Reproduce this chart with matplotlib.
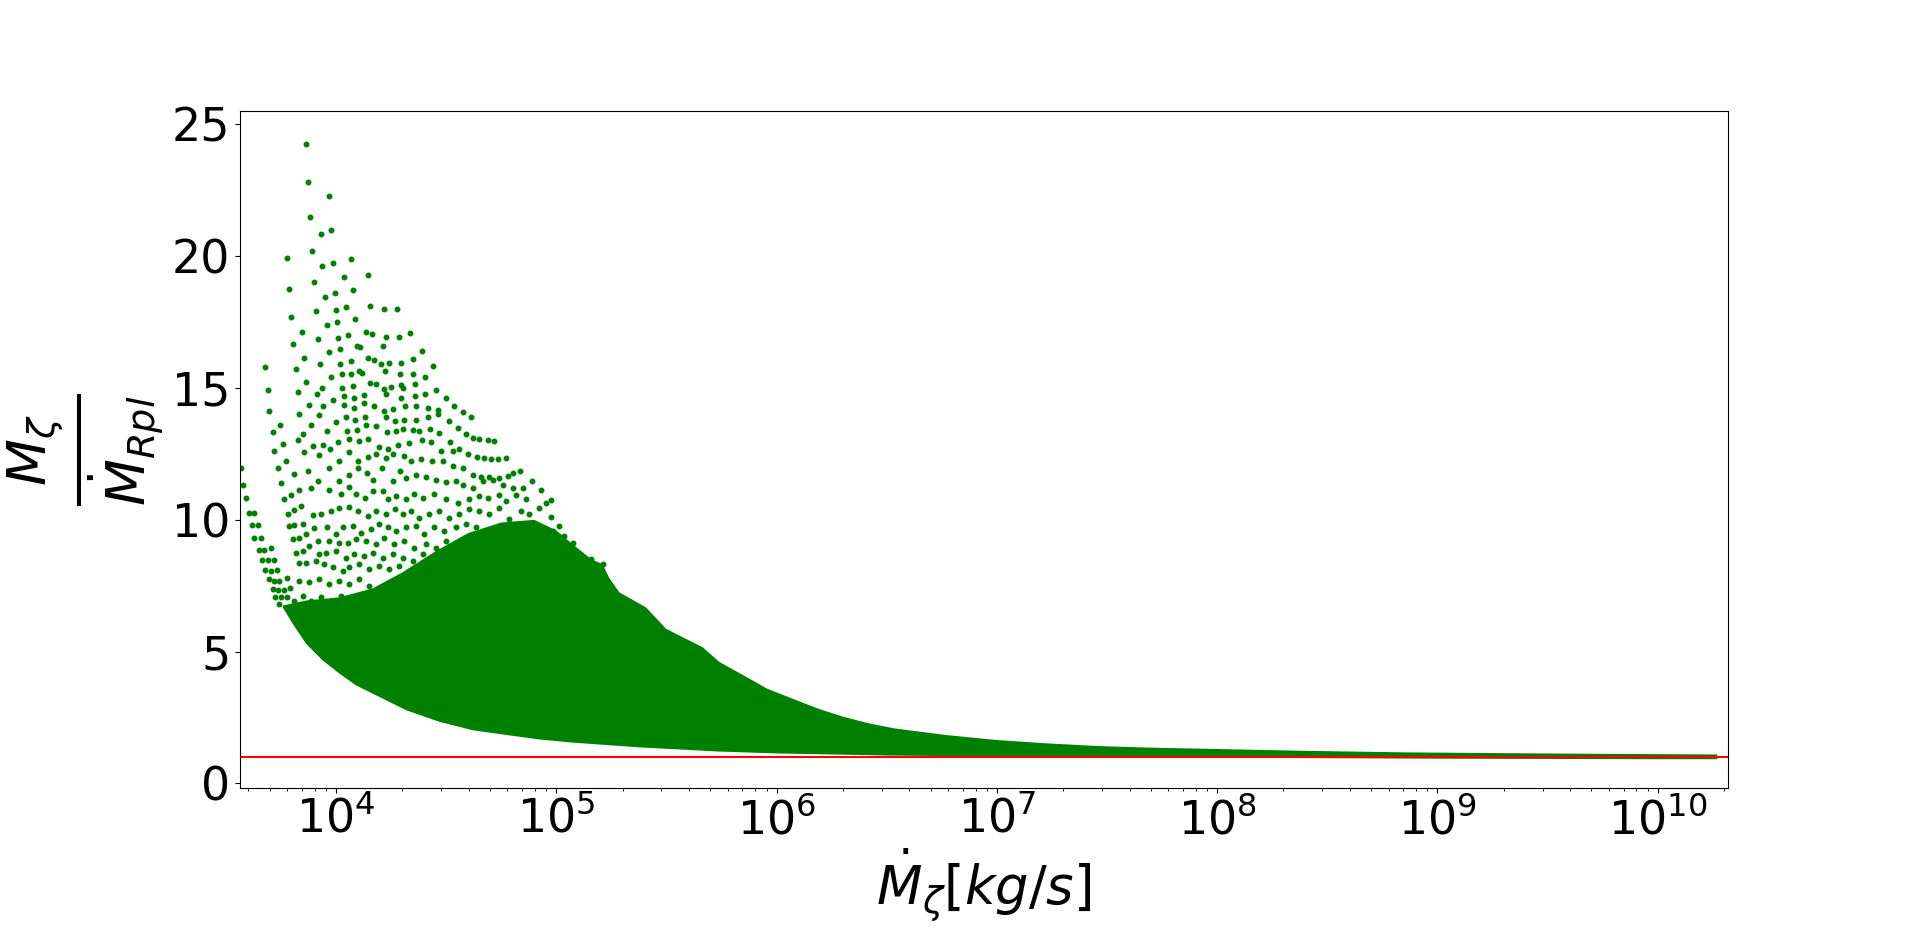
import numpy as np
import matplotlib.pyplot as plt

# (log10 of Mdot_zeta, ratio)
# sparse points at the top of the cloud
upper_pts = [
    (3.862, 24.27), (3.871, 22.83), (3.966, 22.30), (3.880, 21.47), (3.976, 20.98),
    (3.931, 20.86), (3.889, 20.18), (3.776, 19.92), (4.066, 19.88), (3.984, 19.73),
    (3.938, 19.62), (4.143, 19.28), (4.035, 19.20), (3.898, 19.01), (3.785, 18.75),
    (4.075, 18.71), (3.994, 18.60), (3.948, 18.45), (4.152, 18.11), (4.044, 18.07),
    (4.216, 17.99), (4.275, 17.99), (3.998, 17.96), (3.908, 17.92), (3.794, 17.69),
    (4.084, 17.62), (4.003, 17.50), (3.957, 17.39), (3.844, 17.13), (4.134, 17.13),
    (4.161, 17.05), (4.334, 17.09), (4.053, 17.01), (4.225, 16.94), (4.284, 16.94),
    (4.007, 16.90), (3.917, 16.86), (3.803, 16.67), (4.093, 16.60), (4.107, 16.56),
    (4.211, 16.60), (4.016, 16.48), (3.966, 16.37), (4.389, 16.41), (3.853, 16.14),
    (4.143, 16.14), (4.171, 16.07), (4.348, 16.10), (4.066, 16.03), (4.202, 15.92),
    (4.239, 15.95), (4.293, 15.95), (3.926, 15.92), (4.016, 15.92), (4.438, 15.84),
    (3.676, 15.80), (3.817, 15.73), (4.103, 15.65), (4.116, 15.57), (4.221, 15.65),
    (4.025, 15.54), (4.066, 15.54), (4.289, 15.54), (4.348, 15.54), (3.976, 15.43),
    (4.402, 15.43), (3.862, 15.24), (4.152, 15.20), (4.180, 15.16), (4.357, 15.16),
    (4.075, 15.08), (4.248, 15.04), (4.293, 15.12), (4.302, 15.01), (3.938, 15.01),
    (4.025, 15.01), (3.690, 14.93), (4.452, 14.93), (4.216, 14.97),
]

# points in the middle band (roughly 7 to 15)
mid_pts = [
    (3.826, 14.84), (3.914, 14.77), (3.985, 14.55), (4.035, 14.68), (4.083, 14.64),
    (4.125, 14.72), (4.227, 14.77), (4.295, 14.64), (4.358, 14.68), (4.404, 14.77),
    (4.499, 14.64),
    (3.697, 14.14), (3.876, 14.37), (3.939, 14.30), (4.035, 14.34), (4.083, 14.26),
    (4.128, 14.43), (4.174, 14.33), (4.219, 14.14), (4.257, 14.21), (4.313, 14.30),
    (4.363, 14.30), (4.416, 14.26), (4.461, 14.18), (4.537, 14.33), (4.575, 14.09),
    (4.613, 13.92),
    (3.833, 14.01), (3.924, 13.96), (4.000, 13.71), (4.045, 13.89), (4.088, 13.80),
    (4.133, 13.89), (4.181, 13.55), (4.227, 13.92), (4.269, 13.76), (4.307, 13.80),
    (4.363, 13.80), (4.416, 13.92), (4.464, 14.01), (4.511, 13.74), (4.552, 13.48),
    (4.590, 13.26), (4.620, 13.11), (4.650, 13.07), (4.688, 13.04), (4.715, 13.01),
    (3.747, 13.61), (3.712, 13.33), (3.848, 13.26), (3.886, 13.58), (3.957, 13.38),
    (4.048, 13.36), (4.094, 13.42), (4.136, 13.61), (4.231, 13.32), (4.272, 13.38),
    (4.302, 13.46), (4.348, 13.42), (4.378, 13.36), (4.428, 13.46), (4.469, 13.30),
    (4.517, 12.94),
    (3.758, 12.88), (3.720, 12.63), (3.826, 13.04), (3.897, 12.79), (3.939, 12.85),
    (4.007, 12.96), (4.057, 13.08), (4.106, 12.98), (4.144, 13.08), (4.197, 12.75),
    (4.234, 12.67), (4.280, 12.83), (4.333, 12.92), (4.390, 13.02), (4.431, 12.96),
    (4.476, 12.60), (4.529, 12.60), (4.560, 12.69), (4.597, 12.50), (4.638, 12.38),
    (4.673, 12.33), (4.703, 12.29), (4.734, 12.29), (4.771, 12.33),
    (3.773, 12.23), (3.735, 11.97), (3.856, 12.56), (3.921, 12.45), (3.973, 12.67),
    (4.015, 12.25), (4.060, 12.56), (4.098, 12.25), (4.144, 12.38), (4.181, 12.48),
    (4.227, 12.33), (4.257, 12.50), (4.310, 12.41), (4.340, 12.23), (4.386, 12.29),
    (4.436, 12.25), (4.487, 12.23), (4.529, 12.04), (4.578, 11.97), (4.620, 11.72),
    (4.658, 11.62), (4.693, 11.62), (4.741, 11.60), (4.779, 11.66), (4.802, 11.78),
    (4.837, 11.85),
    (3.569, 11.97), (3.576, 11.34), (3.750, 11.41), (3.811, 11.75), (3.871, 11.87),
    (3.917, 11.49), (3.970, 11.95), (4.015, 11.47), (4.057, 11.72), (4.101, 11.97),
    (4.141, 11.78), (4.166, 11.53), (4.209, 11.97), (4.260, 11.47), (4.292, 11.85),
    (4.318, 11.60), (4.363, 11.70), (4.408, 11.62), (4.454, 11.53), (4.499, 11.44),
    (4.544, 11.49), (4.575, 11.34), (4.620, 11.19), (4.666, 11.47), (4.711, 11.53),
    (4.756, 11.34), (4.802, 11.22), (4.847, 11.22), (4.889, 11.47),
    (3.591, 10.81), (3.765, 10.78), (3.796, 10.94), (3.833, 11.15), (3.886, 11.22),
    (3.967, 11.12), (4.023, 10.97), (4.060, 11.24), (4.091, 10.97), (4.133, 10.81),
    (4.166, 11.09), (4.212, 11.09), (4.234, 10.78), (4.272, 10.90), (4.318, 10.78),
    (4.355, 10.97), (4.393, 10.84), (4.446, 10.97), (4.499, 10.78), (4.552, 10.65),
    (4.605, 10.78), (4.650, 10.90), (4.688, 10.81), (4.741, 10.94), (4.771, 10.71),
    (4.817, 10.94), (4.862, 10.78), (4.930, 11.15), (4.953, 10.65), (4.976, 10.74),
    (3.603, 10.27), (3.629, 10.27), (3.780, 10.21), (3.811, 10.36), (3.841, 10.52),
    (3.894, 10.18), (3.932, 10.21), (3.977, 10.34), (4.015, 10.46), (4.060, 10.49),
    (4.098, 10.34), (4.144, 10.15), (4.181, 10.34), (4.227, 10.21), (4.269, 10.40),
    (4.302, 10.21), (4.340, 10.34), (4.378, 10.08), (4.423, 10.21), (4.469, 10.34),
    (4.514, 10.08), (4.560, 10.21), (4.605, 10.40), (4.650, 10.34), (4.696, 10.21),
    (4.741, 10.46), (4.787, 10.02), (4.840, 10.34), (4.877, 10.21), (4.923, 10.46),
    (4.976, 10.11),
    (3.617, 9.79), (3.644, 9.79), (3.788, 9.77), (3.811, 9.81), (3.852, 9.83),
    (3.901, 9.68), (3.957, 9.71), (4.000, 9.45), (4.030, 9.71), (4.075, 9.77),
    (4.113, 9.52), (4.159, 9.64), (4.197, 9.83), (4.234, 9.71), (4.272, 9.58),
    (4.318, 9.71), (4.363, 9.77), (4.401, 9.45), (4.446, 9.71), (4.492, 9.58),
    (4.544, 9.71), (4.590, 9.83), (4.635, 9.71), (4.681, 9.58), (4.726, 9.45),
    (4.771, 9.71), (4.817, 9.58), (4.862, 9.71), (4.908, 9.39), (4.945, 9.45),
    (4.983, 9.58), (5.014, 9.77),
    (3.629, 9.33), (3.659, 9.33), (3.803, 9.27), (3.833, 9.33), (3.864, 9.45),
    (3.917, 9.20), (3.967, 9.18), (4.015, 9.14), (4.053, 9.14), (4.091, 9.27),
    (4.136, 9.20), (4.181, 9.08), (4.219, 9.33), (4.265, 9.08), (4.310, 9.20),
    (4.355, 8.95), (4.408, 9.08), (4.454, 8.95), (4.499, 9.20), (4.544, 9.08),
    (4.590, 8.95), (4.635, 9.01), (4.681, 9.08), (4.726, 8.95), (4.771, 9.14),
    (4.824, 9.20), (4.877, 9.08), (4.923, 9.33), (4.976, 9.14), (5.014, 9.33),
    (5.036, 9.39), (5.074, 9.14),
    (3.649, 8.85), (3.675, 8.85), (3.705, 8.93), (3.818, 8.76), (3.848, 8.83),
    (3.879, 9.01), (3.924, 8.70), (3.954, 8.76), (4.000, 8.83), (4.045, 8.57),
    (4.083, 8.70), (4.128, 8.64), (4.166, 8.76), (4.212, 8.57), (4.257, 8.70),
    (4.302, 8.57), (4.348, 8.45), (4.393, 8.70), (4.439, 8.57), (4.484, 8.45),
    (4.529, 8.64), (4.575, 8.51), (4.620, 8.64), (4.666, 8.45), (4.711, 8.57),
    (4.756, 8.38), (4.802, 8.70), (4.847, 8.57), (4.892, 8.76), (4.938, 8.57),
    (4.983, 8.83), (5.036, 8.64), (5.074, 8.83), (5.104, 8.72), (5.157, 8.51),
    (3.664, 8.47), (3.690, 8.47), (3.717, 8.47), (3.679, 8.09), (3.705, 8.07),
    (3.730, 8.09), (3.833, 8.35), (3.864, 8.38), (3.909, 8.45), (3.947, 8.32),
    (3.985, 8.20), (4.030, 8.07), (4.060, 8.20), (4.106, 8.32), (4.151, 8.13),
    (4.197, 8.26), (4.242, 8.13), (4.287, 8.26), (4.333, 8.07), (4.378, 8.20),
    (4.423, 8.07), (4.469, 8.20), (5.210, 8.32),
    (3.694, 7.75), (3.720, 7.69), (3.743, 7.67), (3.776, 7.79), (3.712, 7.38),
    (3.738, 7.34), (3.765, 7.34), (3.791, 7.42), (3.833, 7.69), (3.879, 7.63),
    (3.924, 7.75), (3.970, 7.57), (4.015, 7.69), (4.060, 7.57), (4.106, 7.75),
    (4.151, 7.50),
    (3.724, 7.06), (3.750, 7.06), (3.776, 7.06), (3.811, 6.94), (3.848, 7.13),
    (3.886, 6.94), (3.932, 7.06), (3.977, 6.94), (4.023, 7.13), (3.743, 6.81),
]

# outline of the solid part of the cloud
core_top = [
    (3.758, 6.75), (3.864, 6.94), (4.015, 7.06), (4.166, 7.40), (4.300, 8.00),
    (4.450, 8.80), (4.600, 9.50), (4.750, 9.90), (4.900, 10.00), (5.000, 9.60),
    (5.070, 9.10), (5.160, 8.50), (5.210, 8.32), (5.240, 7.80), (5.286, 7.25),
    (5.407, 6.68), (5.498, 5.87), (5.573, 5.55), (5.664, 5.17), (5.740, 4.61),
    (5.863, 4.04), (5.956, 3.60), (6.071, 3.22), (6.188, 2.84), (6.303, 2.53),
    (6.419, 2.28), (6.534, 2.09), (6.766, 1.84), (6.997, 1.65), (7.229, 1.52),
    (7.460, 1.42), (7.692, 1.36), (7.923, 1.32), (8.387, 1.24), (8.850, 1.18),
    (9.300, 1.15), (9.800, 1.12), (10.270, 1.10),
]
core_bot = [
    (3.758, 6.68), (3.803, 6.06), (3.864, 5.30), (3.939, 4.67), (4.015, 4.17),
    (4.091, 3.72), (4.166, 3.41), (4.318, 2.78), (4.469, 2.34), (4.620, 2.02),
    (4.772, 1.84), (4.923, 1.67), (5.074, 1.55), (5.377, 1.37), (5.740, 1.21),
    (6.000, 1.14), (6.500, 1.06), (7.000, 1.02), (8.000, 0.98), (9.000, 0.94),
    (10.000, 0.92), (10.270, 0.92),
]

fig = plt.figure(figsize=(19.2, 9.27), dpi=100)
ax = fig.add_axes([0.125, 0.15, 0.775, 0.73])

poly = core_top + core_bot[::-1]
px = 10 ** np.array([p[0] for p in poly])
py = np.array([p[1] for p in poly])
ax.fill(px, py, color='green', lw=0)

for pts in (upper_pts, mid_pts):
    x = 10 ** np.array([p[0] for p in pts])
    y = np.array([p[1] for p in pts])
    ax.plot(x, y, 'g.', markersize=6.5)

ax.axhline(1, color='red', linewidth=1.5)

ax.set_xscale('log')
ax.set_xlim(10 ** 3.564, 10 ** 10.319)
ax.set_ylim(-0.17, 25.5)
ax.tick_params(axis='both', which='major', labelsize=33)
ax.set_xlabel(r'$\dot{M}_\zeta [kg/s]$', fontsize=38, labelpad=2)
ax.set_ylabel(r'$\frac{\dot{M}_\zeta}{\dot{M}_{Rpl}}$', fontsize=56)
ax.yaxis.set_label_coords(-0.050, 0.5)

fig.savefig('out.png', dpi=100)
